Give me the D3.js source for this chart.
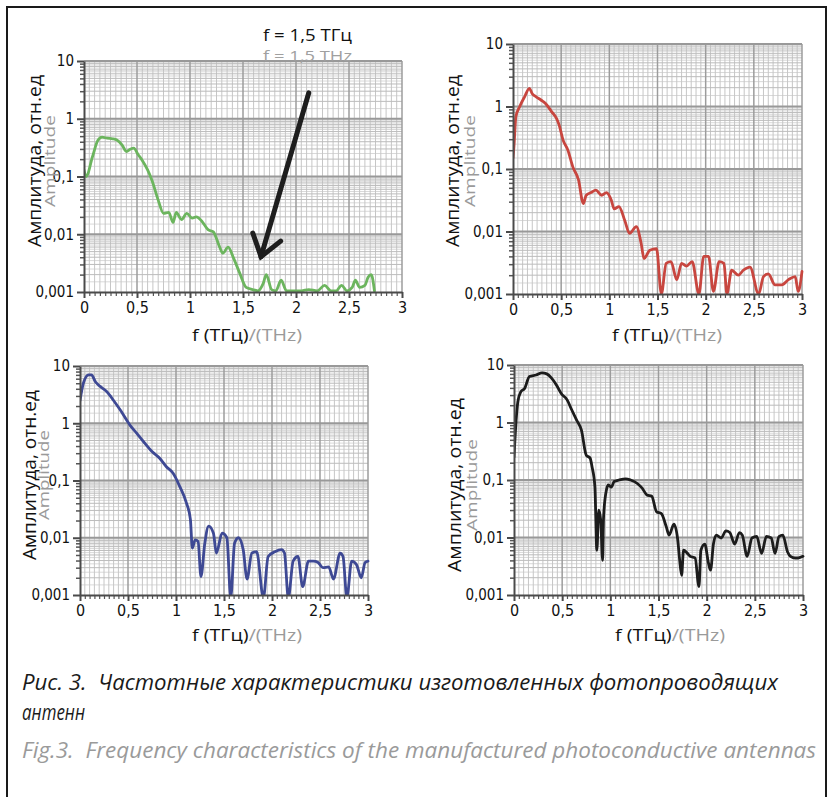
<!DOCTYPE html>
<html><head><meta charset="utf-8">
<script src="https://cdn.jsdelivr.net/npm/d3@7"></script>
<style>body{margin:0;background:#fff} svg{display:block}</style>
</head><body>
<svg id="c" width="829" height="797"></svg>
<script>
// ---------- data ----------
const xTicks = [0, 0.5, 1, 1.5, 2, 2.5, 3];
const xTickLabels = ["0", "0,5", "1", "1,5", "2", "2,5", "3"];
const yTicks = [10, 1, 0.1, 0.01, 0.001];
const yTickLabels = ["10", "1", "0,1", "0,01", "0,001"];

const yTitleRu = "Амплитуда, отн.ед";
const yTitleEn = "Amplitude";
const xTitleRu = "f (ТГц)";
const xTitleEn = "/(THz)";
const annotRu = "f = 1,5 ТГц";
const annotEn = "f = 1,5 THz";
const arrowFrom = [2.12, 2.8];
const arrowTo = [1.67, 0.0041];
const captionRu1 = "Рис. 3.  Частотные характеристики изготовленных фотопроводящих";
const captionRu2 = "антенн";
const captionEn = "Fig.3.  Frequency characteristics of the manufactured photoconductive antennas";

const freqGreen = [0,0.02,0.08,0.13,0.17,0.22,0.27,0.31,0.36,0.40,0.44,0.47,0.51,0.55,0.60,0.64,0.70,0.75,0.80,0.84,0.87,0.92,0.97,1.02,1.06,1.11,1.17,1.22,1.28,1.31,1.36,1.41,1.47,1.53,1.59,1.64,1.69,1.72,1.77,1.81,1.86,1.91,1.97,2.05,2.12,2.20,2.27,2.33,2.38,2.43,2.48,2.53,2.56,2.60,2.65,2.68,2.71,2.74];
const ampGreen = [0.13,0.10,0.22,0.42,0.48,0.46,0.45,0.43,0.35,0.27,0.30,0.31,0.24,0.19,0.13,0.087,0.039,0.023,0.024,0.016,0.024,0.018,0.023,0.019,0.020,0.017,0.012,0.011,0.006,0.0047,0.006,0.0039,0.0021,0.0012,0.0011,0.00105,0.0014,0.002,0.0011,0.00105,0.0016,0.00105,0.00105,0.00105,0.0011,0.00105,0.0013,0.00105,0.00105,0.0013,0.00105,0.0012,0.0016,0.0012,0.0013,0.0018,0.002,0.00105];

const freqRed = [0,0.01,0.03,0.07,0.12,0.17,0.20,0.24,0.29,0.34,0.40,0.45,0.48,0.52,0.57,0.62,0.68,0.73,0.76,0.81,0.86,0.92,0.97,1.02,1.05,1.10,1.16,1.21,1.28,1.33,1.36,1.42,1.49,1.54,1.59,1.64,1.70,1.75,1.80,1.86,1.93,1.98,2.03,2.08,2.14,2.19,2.22,2.27,2.34,2.39,2.46,2.55,2.60,2.65,2.72,2.79,2.86,2.93,2.96,3.0];
const ampRed = [0.15,0.23,0.69,1.0,1.43,1.95,1.6,1.43,1.27,1.11,0.83,0.65,0.5,0.29,0.2,0.109,0.067,0.028,0.038,0.042,0.046,0.038,0.042,0.032,0.023,0.025,0.015,0.0093,0.012,0.0065,0.0037,0.005,0.0053,0.001,0.0031,0.0033,0.0017,0.0031,0.0028,0.0033,0.001,0.004,0.004,0.0011,0.0033,0.0031,0.001,0.0024,0.002,0.0024,0.0027,0.001,0.0019,0.0021,0.0014,0.0014,0.0017,0.0019,0.0011,0.0023];

const freqBlue = [0,0.035,0.09,0.12,0.16,0.21,0.28,0.35,0.42,0.52,0.59,0.66,0.75,0.83,0.90,0.97,1.04,1.11,1.15,1.17,1.20,1.23,1.26,1.30,1.34,1.39,1.42,1.48,1.53,1.57,1.61,1.65,1.70,1.74,1.79,1.84,1.91,1.96,2.03,2.10,2.13,2.17,2.22,2.27,2.32,2.38,2.43,2.48,2.53,2.59,2.64,2.71,2.74,2.78,2.83,2.88,2.93,2.97,3.0];
const ampBlue = [2.5,5.0,7.0,7.0,5.3,4.4,3.55,2.5,1.7,0.93,0.67,0.48,0.32,0.245,0.174,0.134,0.078,0.04,0.021,0.0066,0.0092,0.0086,0.0021,0.008,0.016,0.012,0.0054,0.012,0.01,0.0009,0.008,0.01,0.0062,0.0019,0.0054,0.0057,0.0009,0.0047,0.0057,0.0062,0.0054,0.0009,0.0039,0.0047,0.0014,0.0039,0.0039,0.0037,0.003,0.0031,0.0019,0.0054,0.0047,0.0009,0.0039,0.0034,0.002,0.0037,0.0039];

const freqBlack = [0,0.02,0.04,0.07,0.11,0.16,0.23,0.29,0.34,0.39,0.44,0.49,0.55,0.60,0.65,0.70,0.75,0.79,0.81,0.84,0.86,0.88,0.90,0.92,0.93,0.96,0.98,1.01,1.04,1.09,1.16,1.21,1.28,1.33,1.38,1.43,1.48,1.53,1.58,1.61,1.66,1.70,1.72,1.74,1.76,1.80,1.83,1.88,1.92,1.94,1.98,2.02,2.04,2.07,2.10,2.15,2.20,2.24,2.29,2.34,2.37,2.42,2.47,2.52,2.57,2.62,2.67,2.71,2.75,2.79,2.84,2.87,2.92,2.95,3.0];
const ampBlack = [0.25,0.97,2.3,3.4,3.9,6.3,6.7,7.3,7.0,5.9,4.5,3.2,2.5,1.65,1.1,0.74,0.27,0.24,0.17,0.076,0.006,0.03,0.02,0.004,0.023,0.068,0.082,0.075,0.094,0.1,0.105,0.1,0.087,0.072,0.055,0.052,0.028,0.026,0.0155,0.011,0.017,0.009,0.004,0.0022,0.006,0.0053,0.0047,0.0044,0.0014,0.006,0.0077,0.0035,0.0027,0.0077,0.011,0.0098,0.013,0.0122,0.0077,0.0122,0.011,0.0047,0.0098,0.0104,0.0053,0.0104,0.0098,0.0053,0.0104,0.011,0.0056,0.0047,0.0044,0.0044,0.0047];

// ---------- layout ----------
const panels = [
  {id:"p1", freq:freqGreen, amp:ampGreen, color:"#6cb55e", l:84, r:402, t:61, b:292,
   yl:{bx:41, gx:55, cy:161, bl:172, gl:92}, xl:{cx:247, by:341}},
  {id:"p2", freq:freqRed, amp:ampRed, color:"#c8463f", l:513, r:802, t:44, b:294,
   yl:{bx:459, gx:475, cy:161, bl:172, gl:92}, xl:{cx:667, by:341}},
  {id:"p3", freq:freqBlue, amp:ampBlue, color:"#3e4994", l:80, r:368, t:366, b:595,
   yl:{bx:36, gx:49, cy:475, bl:170, gl:90}, xl:{cx:247, by:641}},
  {id:"p4", freq:freqBlack, amp:ampBlack, color:"#1c1c1c", l:514, r:803, t:365, b:595,
   yl:{bx:461, gx:477, cy:485, bl:174, gl:92}, xl:{cx:670, by:641}}
];

const svg = d3.select("#c");
svg.append("rect").attr("x",7).attr("y",7).attr("width",819).attr("height",805)
  .attr("fill","#fff").attr("stroke","#1a1a1a").attr("stroke-width",2);

const tickFont = "'DejaVu Sans Condensed','DejaVu Sans',sans-serif";

panels.forEach(p => {
  const x = d3.scaleLinear().domain([0,3]).range([p.l,p.r]);
  const y = d3.scaleLog().domain([0.001,10]).range([p.b,p.t]);
  const g = svg.append("g");

  // grid
  const grid = g.append("g");
  const vMinor = d3.range(1,60).map(k=>k*0.05).filter(v=>Math.abs(v/0.5-Math.round(v/0.5))>1e-6);
  const vMajor = xTicks.slice(1);
  const hSub = [], hMinor = [];
  [0.001,0.01,0.1,1].forEach(dec=>{
    d3.range(1.5,10,1).forEach(m=>hSub.push(m*dec));
    d3.range(2,10,1).forEach(m=>hMinor.push(m*dec));
  });
  grid.selectAll(".hs").data(hSub).join("line")
    .attr("x1",p.l).attr("x2",p.r).attr("y1",d=>y(d)).attr("y2",d=>y(d))
    .attr("stroke","#d9d9d9").attr("stroke-width",1);
  grid.selectAll(".vm").data(vMinor).join("line")
    .attr("x1",d=>x(d)).attr("x2",d=>x(d)).attr("y1",p.t).attr("y2",p.b)
    .attr("stroke","#c6c6c6").attr("stroke-width",1);
  grid.selectAll(".hm").data(hMinor).join("line")
    .attr("x1",p.l).attr("x2",p.r).attr("y1",d=>y(d)).attr("y2",d=>y(d))
    .attr("stroke","#bcbcbc").attr("stroke-width",1);
  grid.selectAll(".vM").data(vMajor).join("line")
    .attr("x1",d=>x(d)).attr("x2",d=>x(d)).attr("y1",p.t).attr("y2",p.b)
    .attr("stroke","#9c9c9c").attr("stroke-width",1.5);
  grid.selectAll(".hM").data(yTicks.slice(0,4)).join("line")
    .attr("x1",p.l).attr("x2",p.r).attr("y1",d=>y(d)).attr("y2",d=>y(d))
    .attr("stroke","#999999").attr("stroke-width",2);

  // curve
  const clipId = "clip-"+p.id;
  g.append("clipPath").attr("id",clipId).append("rect")
    .attr("x",p.l).attr("y",p.t-4).attr("width",p.r-p.l+4).attr("height",p.b-p.t+4);
  const line = d3.line().x(d=>x(d[0])).y(d=>y(Math.max(d[1],0.0008))).curve(d3.curveMonotoneX);
  g.append("path").datum(d3.zip(p.freq,p.amp)).attr("d",line)
    .attr("clip-path","url(#"+clipId+")")
    .attr("fill","none").attr("stroke",p.color).attr("stroke-width",2.8)
    .attr("stroke-linejoin","round").attr("stroke-linecap","round");

  // axes - minor ticks
  g.append("g").attr("transform",`translate(${p.l},0)`)
    .call(d3.axisLeft(y).tickValues(hMinor).tickFormat("").tickSize(4).tickSizeOuter(0))
    .call(s=>{s.select(".domain").remove(); s.selectAll("line").attr("stroke","#555").attr("stroke-width",1.5);});
  g.append("g").attr("transform",`translate(0,${p.b})`)
    .call(d3.axisBottom(x).tickValues(vMinor).tickFormat("").tickSize(4).tickSizeOuter(0))
    .call(s=>{s.select(".domain").remove(); s.selectAll("line").attr("stroke","#555").attr("stroke-width",1.2);});

  // axes - major
  const ya = g.append("g").attr("transform",`translate(${p.l},0)`)
    .call(d3.axisLeft(y).tickValues(yTicks).tickFormat((d,i)=>yTickLabels[i]).tickSize(7).tickPadding(3).tickSizeOuter(0));
  ya.select(".domain").attr("stroke","#4a4a4a").attr("stroke-width",2);
  ya.selectAll("line").attr("stroke","#4a4a4a").attr("stroke-width",2);
  ya.selectAll("text").attr("font-family",tickFont).attr("font-size",15).attr("fill","#111");

  const xa = g.append("g").attr("transform",`translate(0,${p.b})`)
    .call(d3.axisBottom(x).tickValues(xTicks).tickFormat((d,i)=>xTickLabels[i]).tickSize(6).tickPadding(4).tickSizeOuter(0));
  xa.select(".domain").attr("stroke","#4a4a4a").attr("stroke-width",2);
  xa.selectAll("line").attr("stroke","#4a4a4a").attr("stroke-width",2);
  xa.selectAll("text").attr("font-family",tickFont).attr("font-size",16).attr("fill","#111");

  // y title
  g.append("text").attr("transform",`translate(${p.yl.bx},${p.yl.cy}) rotate(-90)`)
    .attr("text-anchor","middle").attr("font-family","'Open Sans',sans-serif").attr("font-size",18)
    .attr("fill","#111").attr("textLength",p.yl.bl).attr("lengthAdjust","spacingAndGlyphs").text(yTitleRu);
  g.append("text").attr("transform",`translate(${p.yl.gx},${p.yl.cy}) rotate(-90)`)
    .attr("text-anchor","middle").attr("font-family","'Open Sans',sans-serif").attr("font-size",15)
    .attr("fill","#9a9a9a").attr("textLength",p.yl.gl).attr("lengthAdjust","spacingAndGlyphs").text(yTitleEn);

  // x title
  const xt = g.append("text").attr("x",p.xl.cx-55).attr("y",p.xl.by)
    .attr("font-family","'Open Sans',sans-serif").attr("font-size",17)
    .attr("textLength",110).attr("lengthAdjust","spacingAndGlyphs");
  xt.append("tspan").attr("fill","#111").text(xTitleRu);
  xt.append("tspan").attr("fill","#9a9a9a").text(xTitleEn);

  if (p.id === "p1") {
    // annotation
    g.append("text").attr("x",263).attr("y",41).attr("font-family","'Open Sans',sans-serif")
      .attr("font-size",16).attr("fill","#111").attr("textLength",89).attr("lengthAdjust","spacingAndGlyphs").text(annotRu);
    g.append("text").attr("x",263).attr("y",61).attr("font-family","'Open Sans',sans-serif")
      .attr("font-size",14).attr("fill","#a0a0a0").attr("textLength",89).attr("lengthAdjust","spacingAndGlyphs").text(annotEn);
    const x0 = x(arrowFrom[0]), y0 = y(arrowFrom[1]), x1 = x(arrowTo[0]), y1 = y(arrowTo[1]);
    g.append("line").attr("x1",x0).attr("y1",y0).attr("x2",x1).attr("y2",y1)
      .attr("stroke","#1e1e1e").attr("stroke-width",5).attr("stroke-linecap","round");
    const ang = Math.atan2(y1-y0, x1-x0);
    const L = 25, spread = 0.62;
    const wing = a => [x1 - L*Math.cos(ang+a), y1 - L*Math.sin(ang+a)];
    const w1 = wing(spread), w2 = wing(-spread);
    g.append("path").attr("d",`M${w1[0]},${w1[1]}L${x1},${y1}L${w2[0]},${w2[1]}`)
      .attr("fill","none").attr("stroke","#1e1e1e").attr("stroke-width",5)
      .attr("stroke-linecap","round").attr("stroke-linejoin","miter");
  }
});

// caption
const capFont = "'Open Sans',sans-serif";
svg.append("text").attr("x",22).attr("y",690).attr("font-family",capFont).attr("font-style","italic")
  .attr("font-size",22).attr("fill","#1a1a1a").style("white-space","pre")
  .attr("textLength",756).attr("lengthAdjust","spacingAndGlyphs").text(captionRu1);
svg.append("text").attr("x",22).attr("y",720).attr("font-family",capFont).attr("font-style","italic")
  .attr("font-size",22).attr("fill","#1a1a1a").attr("textLength",63).attr("lengthAdjust","spacingAndGlyphs").text(captionRu2);
svg.append("text").attr("x",22).attr("y",758).attr("font-family",capFont).attr("font-style","italic")
  .attr("font-size",22).attr("fill","#9a9a9a").style("white-space","pre")
  .attr("textLength",794).attr("lengthAdjust","spacingAndGlyphs").text(captionEn);
</script>
</body></html>
